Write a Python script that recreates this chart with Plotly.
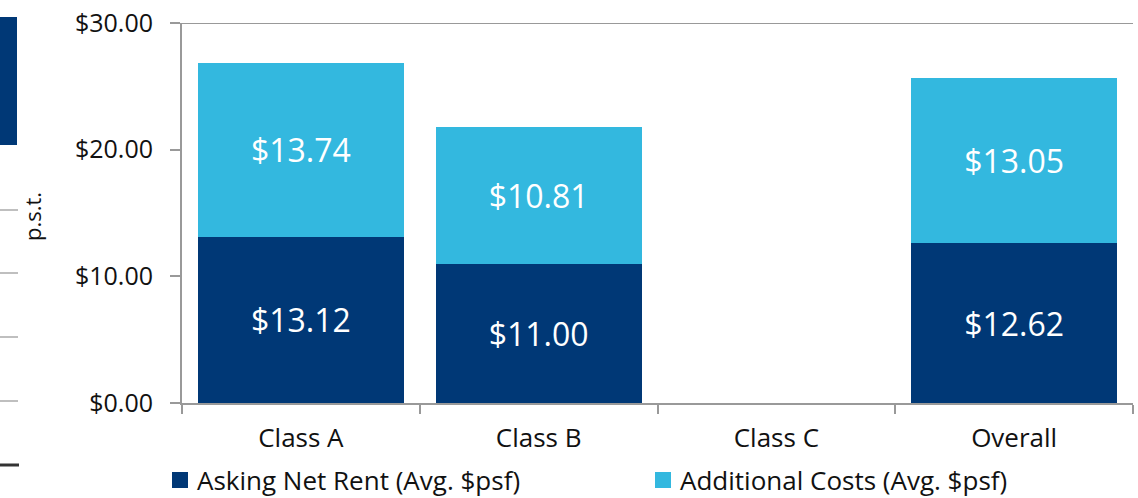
import plotly.graph_objects as go

categories = ["Class A", "Class B", "Class C", "Overall"]
asking_net_rent = [13.12, 11.00, 0, 12.62]
additional_costs = [13.74, 10.81, 0, 13.05]
series_names = ["Asking Net Rent (Avg. $psf)", "Additional Costs (Avg. $psf)"]
y_ticks = [0, 10, 20, 30]
y_tick_labels = ["$0.00", "$10.00", "$20.00", "$30.00"]

DARK = "#003876"
LIGHT = "#33B8DF"
AXIS = "#999999"
TEXT = "#111111"
FONT = "Open Sans"

W, H = 1138, 498
ML, MR, MT, MB = 182, 5, 23, 95
PW = W - ML - MR
PH = H - MT - MB

def px_x(p):
    return (p - ML) / PW

def px_y(p):
    return (H - MB - p) / PH

def labels(vals):
    return [f"${v:.2f}" if v > 0 else "" for v in vals]

fig = go.Figure()
for vals, name, color in [(asking_net_rent, series_names[0], DARK),
                          (additional_costs, series_names[1], LIGHT)]:
    fig.add_trace(go.Bar(
        x=categories, y=vals, name=name,
        marker=dict(color=color, line=dict(width=0)),
        text=labels(vals), textposition="inside", insidetextanchor="middle",
        textfont=dict(color="white", size=32, family=FONT), constraintext="none",
        showlegend=False,
    ))

shapes = [
    # top border line at $30
    dict(type="line", xref="paper", yref="y", x0=0, x1=1, y0=30, y1=30,
         line=dict(color=AXIS, width=2)),
    # stray fragments on the left edge (cropped neighbouring graphic)
    dict(type="rect", xref="paper", yref="paper", x0=px_x(0), x1=px_x(17),
         y0=px_y(145), y1=px_y(17), fillcolor=DARK, line=dict(width=0)),
    dict(type="line", xref="paper", yref="paper", x0=px_x(0), x1=px_x(19),
         y0=px_y(465), y1=px_y(465), line=dict(color="#333333", width=3)),
]
for yy in [210, 273, 337, 401]:
    shapes.append(dict(type="line", xref="paper", yref="paper", x0=px_x(0), x1=px_x(18),
                       y0=px_y(yy), y1=px_y(yy), line=dict(color="#AAAAAA", width=1.5)))

# manual legend
annotations = []
for (sx, color, name) in [(172, DARK, series_names[0]), (655, LIGHT, series_names[1])]:
    shapes.append(dict(type="rect", xref="paper", yref="paper",
                       x0=px_x(sx), x1=px_x(sx + 16), y0=px_y(488), y1=px_y(472),
                       fillcolor=color, line=dict(width=0)))
    annotations.append(dict(text=name, xref="paper", yref="paper", x=px_x(sx + 23),
                            y=px_y(480), xanchor="left", yanchor="middle", showarrow=False,
                            font=dict(size=26, color=TEXT, family=FONT)))

annotations.append(dict(text="p.s.t.", xref="paper", yref="paper", x=px_x(32), y=px_y(217),
                        textangle=-90, showarrow=False, font=dict(size=22, color=TEXT),
                        xanchor="center", yanchor="middle"))

fig.update_layout(
    width=W, height=H,
    margin=dict(l=ML, r=MR, t=MT, b=MB, pad=0),
    barmode="stack", bargap=0.133,
    plot_bgcolor="white", paper_bgcolor="white",
    font=dict(family=FONT, size=22, color=TEXT),
    showlegend=False,
    xaxis=dict(showline=True, linecolor=AXIS, linewidth=2, ticks="outside",
               tickson="boundaries", ticklen=9, tickcolor=AXIS, tickwidth=2,
               showgrid=False, tickfont=dict(size=26, color=TEXT),
               ticklabelstandoff=11),
    yaxis=dict(range=[0, 30], tickvals=y_ticks, ticktext=y_tick_labels,
               showline=True, linecolor=AXIS, linewidth=2, ticks="outside",
               ticklen=10, tickcolor=AXIS, tickwidth=2, showgrid=False,
               zeroline=False, tickfont=dict(size=25, color=TEXT),
               ticklabelstandoff=12),
    shapes=shapes,
    annotations=annotations,
)

fig.write_html("out.html", config={"displayModeBar": False},
               post_script="document.body.style.margin='0';")
